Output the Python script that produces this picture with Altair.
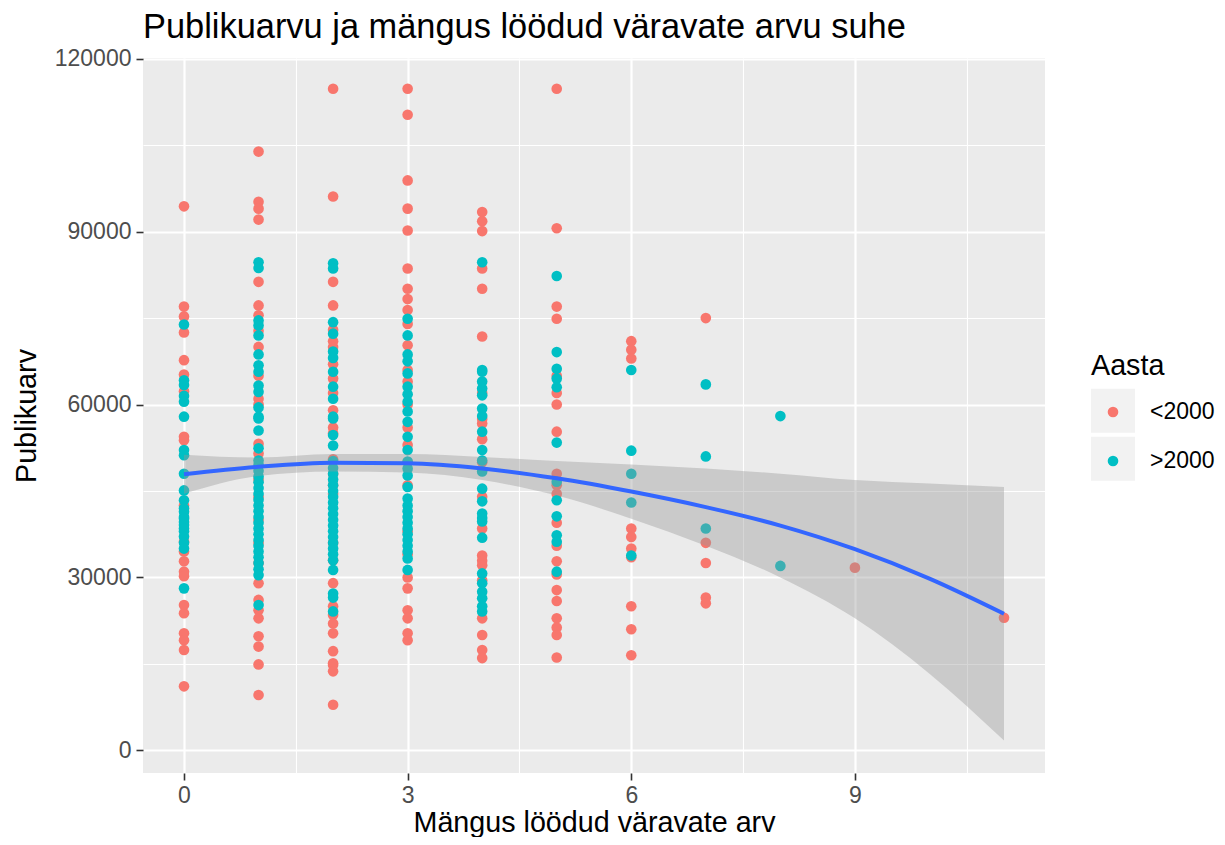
import altair as alt
import pandas as pd

# ---- data (goals in match -> attendance) ----
pre2000 = {
    0: [94400, 77000, 75300, 72500, 67700, 65200, 62300, 54400, 53800, 42500, 36200, 34500,
        32800, 31000, 30200, 25200, 23800, 20300, 19100, 17400, 11100],
    1: [103900, 95200, 94000, 92100, 81300, 77200, 75500, 72800, 70000, 65000, 61000, 60000,
        53200, 51500, 47000, 44000, 40000, 36000, 32500, 29000, 26100, 24300, 22900, 19800,
        18000, 14900, 9600],
    2: [114800, 96100, 81300, 77200, 73000, 71000, 70000, 67000, 64500, 62000, 59000, 56000,
        55000, 50500, 48000, 46000, 44500, 36000, 33000, 29000, 25000, 23500, 22000, 20300,
        17200, 15100, 14800, 13700, 7900],
    3: [114800, 110300, 98900, 94000, 90200, 83600, 80100, 78300, 76400, 74000, 70300, 66000,
        64000, 60000, 56000, 53000, 50000, 46000, 38000, 34000, 30000, 28100, 24300, 22900,
        20300, 19100],
    4: [93400, 91800, 90100, 83600, 80100, 71800, 62000, 57500, 56700, 54000, 50000, 44000,
        38500, 33800, 32900, 32100, 29500, 22900, 20000, 17400, 16000],
    5: [114800, 90600, 77000, 74900, 65000, 62000, 60000, 55300, 48000, 46000, 44500, 39500,
        35500, 32800, 30500, 27800, 25900, 22900, 21300, 20000, 16100],
    6: [71000, 69500, 68000, 38500, 37000, 35000, 33500, 25000, 21000, 16500],
    7: [75000, 36000, 32500, 26500, 25500],
    9: [31700],
    11: [23000],
}
post2000 = {
    0: [73900, 64200, 63400, 61500, 60500, 57900, 52100, 51200, 48000, 45100, 43400, 42000,
        41400, 40500, 40200, 39600, 39100, 38500, 38000, 37100, 36000, 35000, 28100],
    1: [84700, 83700, 74600, 73700, 72000, 68700, 66800, 65700, 63300, 62200, 59500, 57900,
        57600, 55500, 52400, 50300, 49500, 48500, 47500, 46500, 45500, 44500, 43500, 42500,
        41500, 40500, 39500, 38500, 37500, 36500, 35500, 34500, 33500, 32500, 31400, 30400,
        25200],
    2: [84500, 83600, 74300, 72300, 69200, 68100, 65700, 63100, 61000, 57900, 57600, 54700,
        52900, 50200, 49000, 48000, 47000, 46000, 45000, 44000, 43000, 42000, 41000, 40000,
        39000, 38000, 37000, 36000, 35000, 34000, 33000, 31300, 27200, 26500, 24100],
    3: [74900, 72000, 68700, 67500, 65400, 63100, 61800, 60500, 58800, 57000, 54400, 52100,
        50100, 48900, 47700, 45700, 43700, 42500, 41500, 40500, 39500, 38500, 37500, 36500,
        35500, 34500, 33300, 31300],
    4: [84700, 66000, 65700, 64000, 62800, 61600, 59300, 58000, 55300, 52100, 50300, 48400,
        45400, 43200, 41100, 40300, 39700, 36900, 30700, 29000, 27500, 26400, 25000, 24100],
    5: [82300, 69100, 66200, 64500, 63000, 53400, 46600, 43400, 40600, 37300, 36200, 31000],
    6: [66000, 52000, 48000, 43000, 33800],
    7: [63500, 51000, 38500],
    8: [58000, 32000],
}
group_labels = ["<2000", ">2000"]
group_colors = ["#F8766D", "#00BFC4"]

# smoother with its confidence band
smooth_x = [0, 1, 2, 3, 4, 5, 6, 7, 8, 9, 10, 11]
smooth_fit = [47900, 49200, 49900, 49800, 48900, 47200, 44900, 42200, 39000, 34900, 29800, 23700]
smooth_lo = [44500, 47600, 48400, 48200, 46900, 44200, 40200, 35500, 30000, 22900, 13300, 1700]
smooth_hi = [51300, 50800, 51400, 51400, 50900, 50200, 49600, 48900, 48000, 46900, 46300, 45700]

x_ticks = [0, 1.5, 3, 4.5, 6, 7.5, 9, 10.5]
y_ticks = [0, 15000, 30000, 45000, 60000, 75000, 90000, 105000, 120000]

rows = []
for g, vals in pre2000.items():
    for v in vals:
        rows.append({"goals": g, "att": v, "Aasta": group_labels[0], "key": "k1"})
for g, vals in post2000.items():
    for v in vals:
        rows.append({"goals": g, "att": v, "Aasta": group_labels[1], "key": "k2"})
pts = pd.DataFrame(rows)
smooth = pd.DataFrame({"x": smooth_x, "fit": smooth_fit, "lo": smooth_lo, "hi": smooth_hi})

FONT = "Liberation Sans"
W, H = 902, 715
TICK_FS = 23
AXT_FS = 28.7
LEG_LAB_FS = 23

xscale = alt.Scale(domain=[-0.55, 11.55], nice=False, zero=False)
yscale = alt.Scale(domain=[-3940, 120140], nice=False, zero=False)

xaxis = alt.Axis(
    values=x_ticks, format="d", title="Mängus löödud väravate arv",
    labelExpr="datum.value % 3 === 0 ? datum.label : ''",
    gridWidth={"condition": {"test": "datum.value % 3 === 0", "value": 2.2}, "value": 1.1},
    tickOpacity={"condition": {"test": "datum.value % 3 === 0", "value": 1}, "value": 0},
    titleX=W / 2, titleY=49.5, titleBaseline="middle", titleAlign="center", labelPadding=4,
)
yaxis = alt.Axis(
    values=y_ticks, format="d", title="Publikuarv",
    labelExpr="datum.value % 30000 === 0 ? datum.label : ''",
    gridWidth={"condition": {"test": "datum.value % 30000 === 0", "value": 2.2}, "value": 1.1},
    tickOpacity={"condition": {"test": "datum.value % 30000 === 0", "value": 1}, "value": 0},
    titleX=-117, titleY=H / 2, titleBaseline="middle", titleAlign="center", titleAngle=-90,
)

# legend: grey key squares (shape legend) with the coloured dots (colour legend) on top
keys = alt.Chart(pts).mark_point(filled=True, color="#F2F2F2", opacity=0).encode(
    x=alt.X("goals:Q", scale=xscale),
    y=alt.Y("att:Q", scale=yscale),
    shape=alt.Shape(
        "key:N",
        scale=alt.Scale(domain=["k1", "k2"], range=["square", "square"]),
        legend=alt.Legend(
            orient="none", legendX=948, legendY=294, title="Aasta",
            titleFontSize=AXT_FS, titleFont=FONT, titleColor="black", titleFontWeight="normal",
            titlePadding=8, titleAnchor="start",
            labelExpr="''", labelFontSize=1,
            symbolType="square", symbolSize=1936, symbolFillColor="#F2F2F2",
            symbolStrokeWidth=0, symbolOpacity=1,
            rowPadding=4, padding=0,
        ),
    ),
)

points = alt.Chart(pts).mark_circle(size=113, opacity=1).encode(
    x=alt.X("goals:Q", scale=xscale, axis=xaxis),
    y=alt.Y("att:Q", scale=yscale, axis=yaxis),
    color=alt.Color(
        "Aasta:N",
        scale=alt.Scale(domain=group_labels, range=group_colors),
        legend=alt.Legend(
            orient="none", legendX=958.5, legendY=342.5, title=None,
            labelFontSize=LEG_LAB_FS, labelFont=FONT, labelColor="black",
            symbolType="circle", symbolSize=113, symbolStrokeWidth=0, symbolOpacity=1,
            rowPadding=25, labelOffset=25.5, padding=0,
        ),
    ),
)

band = alt.Chart(smooth).mark_area(color="#999999", opacity=0.4, interpolate="monotone").encode(
    x=alt.X("x:Q", scale=xscale),
    y=alt.Y("lo:Q", scale=yscale),
    y2="hi:Q",
)
line = alt.Chart(smooth).mark_line(color="#3366FF", strokeWidth=4, interpolate="monotone").encode(
    x=alt.X("x:Q", scale=xscale),
    y=alt.Y("fit:Q", scale=yscale),
)

chart = alt.layer(keys, points, band, line).properties(
    width=W, height=H,
    background="white",
    title=alt.TitleParams("Publikuarvu ja mängus löödud väravate arvu suhe", anchor="start",
                          frame="group", fontSize=34.4, font=FONT, fontWeight="normal",
                          color="black", offset=2),
    padding={"left": 135, "top": 50, "right": 170, "bottom": 64},
    autosize=alt.AutoSizeParams(type="none"),
).configure_view(fill="#EBEBEB", strokeWidth=0).configure_axis(
    gridColor="white", domain=False, tickColor="#333333", tickSize=7, tickWidth=1.6,
    labelColor="#4D4D4D", labelFontSize=TICK_FS, labelFont=FONT, labelPadding=5,
    titleFont=FONT, titleFontSize=AXT_FS, titleColor="black", titleFontWeight="normal",
    labelOverlap=False,
)

chart.save("out.html", embed_options={"renderer": "svg", "actions": False})
